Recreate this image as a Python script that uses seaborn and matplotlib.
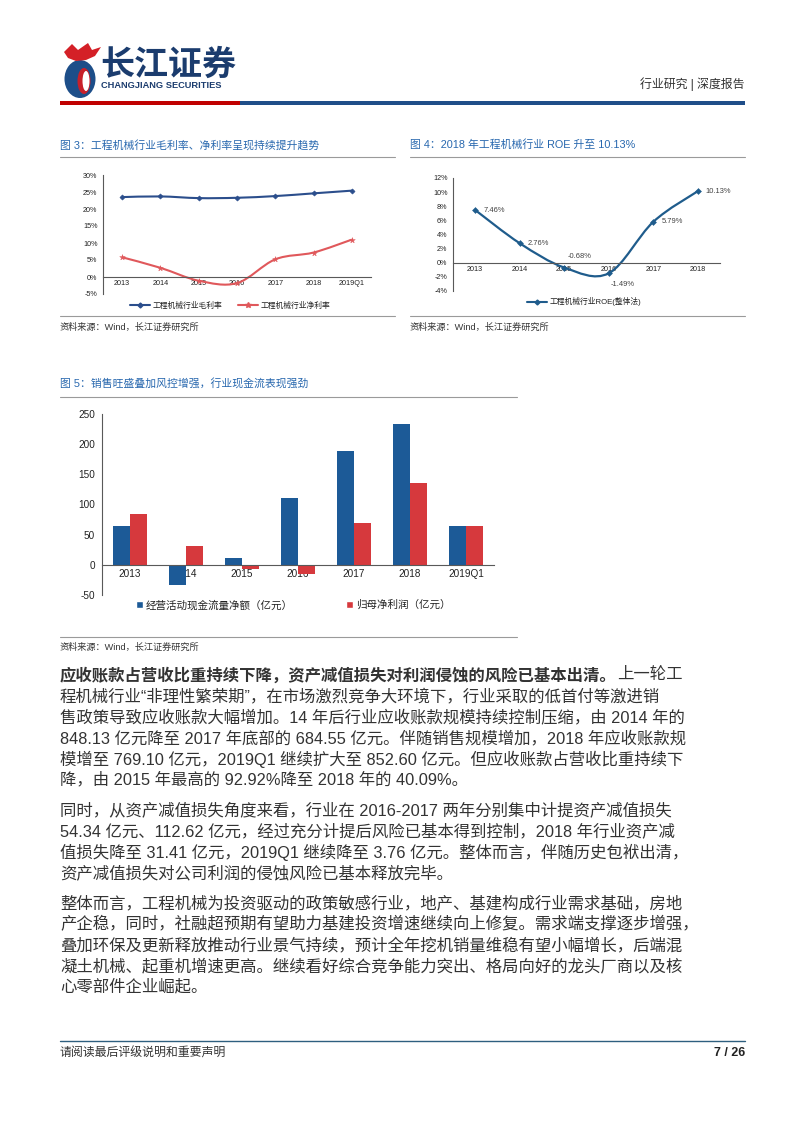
import numpy as np
import pandas as pd
import matplotlib
matplotlib.use("Agg")
import matplotlib.pyplot as plt
import seaborn as sns
from matplotlib.path import Path
from matplotlib.patches import PathPatch, Ellipse, Rectangle, Polygon
from matplotlib.lines import Line2D

# ---------------- data ----------------
years_margin = ["2013", "2014", "2015", "2016", "2017", "2018", "2019Q1"]
gross_margin = [23.5, 23.7, 23.2, 23.3, 23.8, 24.6, 25.4]
net_margin = [5.8, 2.7, -1.1, -1.8, 5.2, 7.2, 11.0]
margin_ticks = [-5, 0, 5, 10, 15, 20, 25, 30]
margin_series = ["工程机械行业毛利率", "工程机械行业净利率"]

years_roe = ["2013", "2014", "2015", "2016", "2017", "2018"]
roe = [7.46, 2.76, -0.68, -1.49, 5.79, 10.13]
roe_labels = ["7.46%", "2.76%", "-0.68%", "-1.49%", "5.79%", "10.13%"]
roe_ticks = [-4, -2, 0, 2, 4, 6, 8, 10, 12]
roe_series = "工程机械行业ROE(整体法)"

years_cash = ["2013", "2014", "2015", "2016", "2017", "2018", "2019Q1"]
op_cash_flow = [65, -33, 11, 111, 189, 233, 65]
net_profit = [84, 32, -7, -16, 70, 135, 65]
cash_ticks = [-50, 0, 50, 100, 150, 200, 250]
cash_series = ["经营活动现金流量净额（亿元）", "归母净利润（亿元）"]

# ---------------- style ----------------
sns.set_theme(style="white")
FONT = ["Liberation Sans", "Noto Sans CJK SC", "DejaVu Sans"]
plt.rcParams["font.family"] = FONT
plt.rcParams["axes.unicode_minus"] = False

W, H = 802, 1133
title_c = "#2767AE"
txt_c = "#222222"
body_c = "#333333"
axis_c = "#595959"
sep_c = "#9A9A9A"
c_gross = "#2B4E8C"
c_net = "#E0585B"
c_roe = "#1F5C8C"
c_blue = "#1C5A97"
c_red = "#D6393D"

fig = plt.figure(figsize=(W / 100, H / 100), dpi=100)
page = fig.add_axes([0, 0, 1, 1])
page.set_xlim(0, W)
page.set_ylim(H, 0)
page.axis("off")


def rect(x0, y0, x1, y1):
    return [x0 / W, 1 - y1 / H, (x1 - x0) / W, (y1 - y0) / H]


def smooth_path(xs, ys):
    pts = np.column_stack([xs, ys]).astype(float)
    n = len(pts)
    verts = [pts[0]]
    codes = [Path.MOVETO]
    for i in range(n - 1):
        p0 = pts[i - 1] if i > 0 else pts[i]
        p1 = pts[i]
        p2 = pts[i + 1]
        p3 = pts[i + 2] if i + 2 < n else pts[i + 1]
        verts += [p1 + (p2 - p0) / 6, p2 - (p3 - p1) / 6, p2]
        codes += [Path.CURVE4] * 3
    return Path(verts, codes)


def style_axes(ax, cats, ylim, yticks, ylabels, fs, tick_len, xpad):
    n = len(cats)
    ax.set_xlim(-0.5, n - 0.5)
    ax.set_ylim(*ylim)
    ax.set_facecolor("none")
    ax.grid(False)
    for s in ["top", "right"]:
        ax.spines[s].set_visible(False)
    for s in ["left", "bottom"]:
        ax.spines[s].set_color(axis_c)
        ax.spines[s].set_linewidth(0.8)
    ax.spines["bottom"].set_position(("data", 0))
    ax.set_yticks(yticks)
    ax.set_yticklabels(ylabels, fontsize=fs, color=txt_c)
    ax.set_xticks(range(n))
    ax.set_xticklabels(cats, fontsize=fs, color=txt_c)
    ax.set_xticks(np.arange(-0.5, n, 1.0), minor=True)
    ax.tick_params(axis="x", which="major", length=0, pad=xpad)
    ax.tick_params(axis="x", which="minor", length=tick_len, width=0.8,
                   color=axis_c, direction="out")
    ax.tick_params(axis="y", length=tick_len, width=0.8, color=axis_c,
                   direction="out", pad=1.5)
    ax.set_xlabel("")
    ax.set_ylabel("")


# ---------------- header ----------------
page.add_patch(Ellipse((80, 79), 31, 38, fc="#1D4E89", ec="none"))
page.add_patch(Ellipse((84, 81), 13, 26, fc="#C8202A", ec="none"))
page.add_patch(Ellipse((86, 81), 7, 20, fc="white", ec="none"))
page.add_patch(Polygon([[64, 52], [72, 44], [78, 50], [88, 43], [92, 50],
                        [101, 47], [95, 56], [86, 60], [76, 61], [68, 58]],
                       closed=True, fc="#D42027", ec="none"))
page.text(100, 64, "长江证券", fontsize=24.5, fontweight="bold", color="#1B3C6E",
          va="center", ha="left", family=["Noto Sans CJK SC"])
page.text(101, 85, "CHANGJIANG SECURITIES", fontsize=6.7, fontweight="bold",
          color="#1B3C6E", va="center", ha="left")
page.text(745, 84, "行业研究 | 深度报告", fontsize=8.6, color="#333333",
          va="center", ha="right")
page.add_patch(Rectangle((60, 101), 180, 4, fc="#C00000", ec="none"))
page.add_patch(Rectangle((240, 101), 505, 4, fc="#1F4E89", ec="none"))

# ---------------- figure titles / separators ----------------
page.text(60, 145, "图 3：工程机械行业毛利率、净利率呈现持续提升趋势", fontsize=7.8,
          color=title_c, va="center", ha="left")
page.text(410, 145, "图 4：2018 年工程机械行业 ROE 升至 10.13%", fontsize=7.8,
          color=title_c, va="center", ha="left")
page.text(60, 383, "图 5：销售旺盛叠加风控增强，行业现金流表现强劲", fontsize=7.8,
          color=title_c, va="center", ha="left")
for (xa, xb, y) in [(60, 395, 157), (410, 745, 157), (60, 395, 316), (410, 745, 316),
                    (60, 517, 397), (60, 517, 637)]:
    page.plot([xa, xb], [y, y], color=sep_c, lw=0.8)
for (xs, y) in [(60, 327), (410, 327), (60, 647)]:
    page.text(xs, y, "资料来源：Wind，长江证券研究所", fontsize=6.6, color="#333333",
              va="center", ha="left")

# ---------------- chart 1 : margins ----------------
ax1 = fig.add_axes(rect(103, 175, 371, 294))
x1 = np.arange(len(years_margin))
ax1.add_patch(PathPatch(smooth_path(x1, gross_margin), fc="none", ec=c_gross, lw=1.5, zorder=2))
ax1.add_patch(PathPatch(smooth_path(x1, net_margin), fc="none", ec=c_net, lw=1.5, zorder=2))
df1 = pd.DataFrame({"x": x1, "gross": gross_margin, "net": net_margin})
sns.scatterplot(data=df1, x="x", y="gross", ax=ax1, marker="D", s=7, color=c_gross,
                edgecolor=c_gross, linewidth=0.4, zorder=3, legend=False)
sns.scatterplot(data=df1, x="x", y="net", ax=ax1, marker="*", s=18, color=c_net,
                edgecolor=c_net, linewidth=0.3, zorder=3, legend=False)
style_axes(ax1, years_margin, (-5, 30), margin_ticks, [f"{t}%" for t in margin_ticks],
           5.2, 2.5, 2.2)
h1 = [Line2D([], [], color=c_gross, lw=1.5, marker="D", ms=2.5),
      Line2D([], [], color=c_net, lw=1.5, marker="*", ms=4)]
ax1.legend(h1, margin_series, loc="center left", bbox_to_anchor=(130, 306),
           bbox_transform=page.transData, ncol=2, frameon=False, fontsize=5.6,
           handlelength=2.6, handletextpad=0.3, columnspacing=2.0,
           borderpad=0, borderaxespad=0, labelcolor=txt_c)

# ---------------- chart 2 : ROE ----------------
ax2 = fig.add_axes(rect(453, 178, 720, 291))
x2 = np.arange(len(years_roe))
ax2.add_patch(PathPatch(smooth_path(x2, roe), fc="none", ec=c_roe, lw=1.6, zorder=2))
df2 = pd.DataFrame({"x": x2, "roe": roe})
sns.scatterplot(data=df2, x="x", y="roe", ax=ax2, marker="D", s=9, color=c_roe,
                edgecolor=c_roe, linewidth=0.4, zorder=3, legend=False)
style_axes(ax2, years_roe, (-4, 12), roe_ticks, [f"{t}%" for t in roe_ticks],
           5.2, 2.5, 2.2)
offsets = [(8, 0, "left"), (8, 0, "left"), (15, 11, "center"), (14, -11, "center"),
           (8, 0, "left"), (8, 0, "left")]
for xi, yi, lab, (dx, dy, ha) in zip(x2, roe, roe_labels, offsets):
    ax2.annotate(lab, (xi, yi), xytext=(dx, dy), textcoords="offset pixels",
                 ha=ha, va="center", fontsize=5.4, color="#404040")
h2 = [Line2D([], [], color=c_roe, lw=1.5, marker="D", ms=2.5)]
ax2.legend(h2, [roe_series], loc="center left", bbox_to_anchor=(527, 302),
           bbox_transform=page.transData, frameon=False, fontsize=5.6,
           handlelength=2.6, handletextpad=0.3, borderpad=0, borderaxespad=0,
           labelcolor=txt_c)

# ---------------- chart 3 : cash flow bars ----------------
ax3 = fig.add_axes(rect(102, 414, 494, 595))
df3 = pd.DataFrame({
    "year": years_cash * 2,
    "value": op_cash_flow + net_profit,
    "series": [cash_series[0]] * len(years_cash) + [cash_series[1]] * len(years_cash),
})
sns.barplot(data=df3, x="year", y="value", hue="series", order=years_cash,
            hue_order=cash_series, palette=[c_blue, c_red], width=0.6, gap=0,
            saturation=1, ax=ax3, legend=False)
for p in ax3.patches:
    p.set_edgecolor("none")
style_axes(ax3, years_cash, (-50, 250), cash_ticks, [str(t) for t in cash_ticks],
           7.2, 3.5, 3.0)
h3 = [Rectangle((0, 0), 1, 1, fc=c_blue), Rectangle((0, 0), 1, 1, fc=c_red)]
ax3.legend(h3, cash_series, loc="center left", bbox_to_anchor=(136, 605),
           bbox_transform=page.transData, ncol=2, frameon=False, fontsize=7.6,
           handlelength=0.65, handleheight=0.65, handletextpad=0.3, columnspacing=5.0,
           borderpad=0, borderaxespad=0, labelcolor=txt_c)

# ---------------- body text ----------------
BODY_FS = 11.8
body_kw = dict(fontsize=BODY_FS, color=body_c, va="center", ha="left")
p1 = [
    "程机械行业“非理性繁荣期”，在市场激烈竞争大环境下，行业采取的低首付等激进销",
    "售政策导致应收账款大幅增加。14 年后行业应收账款规模持续控制压缩，由 2014 年的",
    "848.13 亿元降至 2017 年底部的 684.55 亿元。伴随销售规模增加，2018 年应收账款规",
    "模增至 769.10 亿元，2019Q1 继续扩大至 852.60 亿元。但应收账款占营收比重持续下",
    "降，由 2015 年最高的 92.92%降至 2018 年的 40.09%。",
]
p2 = [
    "同时，从资产减值损失角度来看，行业在 2016-2017 两年分别集中计提资产减值损失",
    "54.34 亿元、112.62 亿元，经过充分计提后风险已基本得到控制，2018 年行业资产减",
    "值损失降至 31.41 亿元，2019Q1 继续降至 3.76 亿元。整体而言，伴随历史包袱出清，",
    "资产减值损失对公司利润的侵蚀风险已基本释放完毕。",
]
p3 = [
    "整体而言，工程机械为投资驱动的政策敏感行业，地产、基建构成行业需求基础，房地",
    "产企稳，同时，社融超预期有望助力基建投资增速继续向上修复。需求端支撑逐步增强，",
    "叠加环保及更新释放推动行业景气持续，预计全年挖机销量维稳有望小幅增长，后端混",
    "凝土机械、起重机增速更高。继续看好综合竞争能力突出、格局向好的龙头厂商以及核",
    "心零部件企业崛起。",
]
LS = 21
y = 675
bold = page.text(60, y, "应收账款占营收比重持续下降，资产减值损失对利润侵蚀的风险已基本出清。",
                 fontweight="bold", **body_kw)
page.annotate("上一轮工", xy=(1, 0.5), xycoords=bold, va="center", ha="left",
              fontsize=BODY_FS, color=body_c)
for line in p1:
    y += LS
    page.text(60, y, line, **body_kw)
y += LS + 9
for i, line in enumerate(p2):
    page.text(60, y, line, **body_kw)
    y += LS
y += 9
for line in p3:
    page.text(60, y, line, **body_kw)
    y += LS

# ---------------- footer ----------------
page.plot([60, 745], [1041, 1041], color="#2E5F7F", lw=1.0)
page.text(60, 1053, "请阅读最后评级说明和重要声明", fontsize=8.6, color="#333333",
          va="center", ha="left")
page.text(745, 1053, "7 / 26", fontsize=9, fontweight="bold", color="#222222",
          va="center", ha="right")

fig.savefig("out.png", dpi=100)
